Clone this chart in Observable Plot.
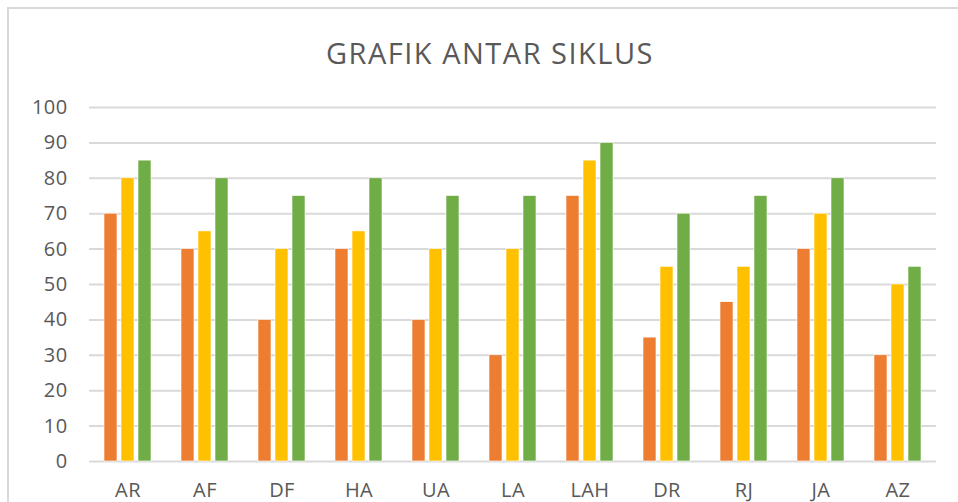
<!DOCTYPE html>
<html>
<head>
<meta charset="utf-8">
<script src="https://cdn.jsdelivr.net/npm/d3@7"></script>
<script src="https://cdn.jsdelivr.net/npm/@observablehq/plot@0.6"></script>
<style>
  html, body { margin: 0; padding: 0; background: #fff; overflow: hidden; }
  #wrap { position: relative; width: 958px; height: 502px; }
  #frame { position: absolute; left: 7px; top: 7px; width: 1000px; height: 600px; border-top: 2px solid #d9d9d9; border-left: 2px solid #d9d9d9; box-sizing: border-box; }
  #title { position: absolute; left: 0; top: 33px; width: 980px; text-align: center; font-family: "Open Sans", sans-serif; font-weight: 400; font-size: 29px; line-height: normal; color: #595959; letter-spacing: 1.5px; }
  svg { position: absolute; left: 0; top: 0; }
</style>
</head>
<body>
<div id="wrap">
  <div id="frame"></div>
  <div id="title">GRAFIK ANTAR SIKLUS</div>
</div>
<script>
const categories = ["AR", "AF", "DF", "HA", "UA", "LA", "LAH", "DR", "RJ", "JA", "AZ"];
const seriesNames = ["Pra Siklus", "Siklus I", "Siklus II"];
const praSiklus = [70, 60, 40, 60, 40, 30, 75, 35, 45, 60, 30];
const siklus1   = [80, 65, 60, 65, 60, 60, 85, 55, 55, 70, 50];
const siklus2   = [85, 80, 75, 80, 75, 75, 90, 70, 75, 80, 55];
const colors = ["#ED7D31", "#FFC000", "#70AD47"];
const yTicks = [0, 10, 20, 30, 40, 50, 60, 70, 80, 90, 100];

const seriesValues = [praSiklus, siklus1, siklus2];
const data = [];
categories.forEach((c, i) => {
  seriesNames.forEach((s, j) => data.push({category: c, series: s, value: seriesValues[j][i]}));
});

const chart = Plot.plot({
  width: 958,
  height: 502,
  marginLeft: 85,
  marginRight: 18,
  marginTop: 107,
  marginBottom: 41,
  style: { fontFamily: "'Open Sans', sans-serif", fontSize: "20px", color: "#595959", background: "transparent", letterSpacing: "0.4px" },
  fx: { domain: categories, padding: 0, axis: "bottom", label: null, tickSize: 0, tickPadding: 21 },
  x: { domain: seriesNames, paddingInner: 0.23, paddingOuter: 0.83, axis: null },
  y: { domain: [0, 100], ticks: yTicks, label: null, tickSize: 0, tickPadding: 22 },
  color: { domain: seriesNames, range: colors },
  marks: [
    Plot.ruleY(yTicks, { stroke: "#d9d9d9", strokeWidth: 2, strokeOpacity: 1 }),
    Plot.barY(data, { fx: "category", x: "series", y: "value", fill: "series", stroke: "white", strokeWidth: 0.6 })
  ]
});
document.getElementById("wrap").appendChild(chart);
</script>
</body>
</html>
